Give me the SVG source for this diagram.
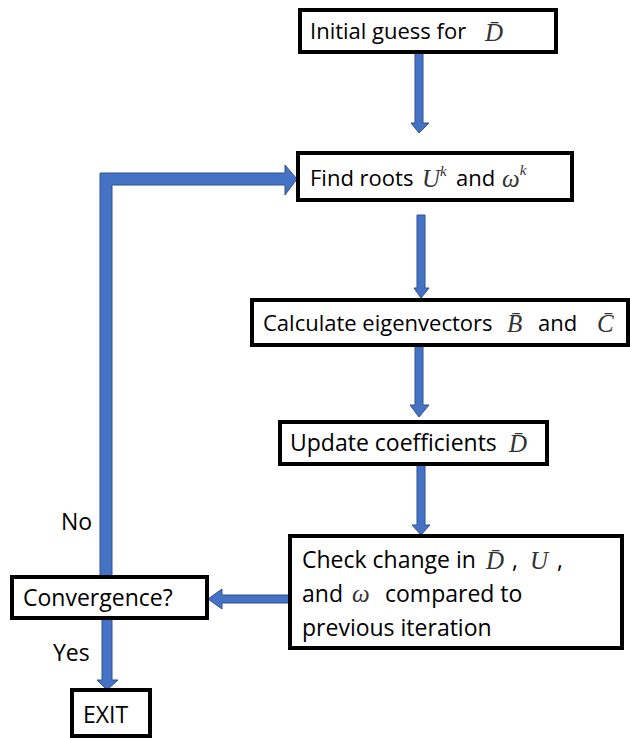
<svg xmlns="http://www.w3.org/2000/svg" width="630" height="738" viewBox="0 0 630 738">
<style>
.box{fill:#fff;stroke:#000;stroke-width:4}
.t{font-family:"Open Sans","Liberation Sans",sans-serif;font-size:23px;fill:#000}
.s22{font-size:22px}
.m{font-family:"Liberation Serif","DejaVu Serif",serif;font-style:italic;font-size:25px;fill:#333}
.sup{font-size:15px}
.arr{fill:#4472C4;stroke:#2F528F;stroke-width:1}
</style>
<rect width="630" height="738" fill="#fff"/>
<g id="connectors">
  <polygon class="arr" points="415,52 423,52 423,123 429,123 419,133 411,123 415,123"/>
  <polygon class="arr" points="417,215 425,215 425,288 429,288 421,298 414,288 417,288"/>
  <polygon class="arr" points="415,345 423,345 423,405 429,405 419,417 410,405 415,405"/>
  <polygon class="arr" points="417,464 425,464 425,525 430,525 421,535 412,525 417,525"/>
  <polygon class="arr" points="100,576 100,173 285,173 285,165 297,179 285,195 285,185 112,185 112,576"/>
  <polygon class="arr" points="290,595 222,595 222,589 208,599 222,609 222,603 290,603"/>
  <polygon class="arr" points="102,618 112,618 112,680 118,680 107,690 97,680 102,680"/>
</g>
<g id="n1">
  <rect class="box" x="300" y="10" width="256" height="42"/>
  <text class="t s22" x="310" y="39">Initial guess for</text>
  <text class="m" x="485" y="41">D̄</text>
</g>
<g id="n2">
  <rect class="box" x="298" y="153" width="274" height="47"/>
  <text class="t s22" x="310" y="186">Find roots</text>
  <text class="m" x="422" y="187">U<tspan class="sup" dy="-11">k</tspan></text>
  <text class="t s22" x="456" y="186">and</text>
  <text class="m" x="502" y="187">ω<tspan class="sup" dy="-12">k</tspan></text>
</g>
<g id="n3">
  <rect class="box" x="252" y="300" width="376" height="45"/>
  <text class="t s22" x="263" y="331">Calculate eigenvectors</text>
  <text class="m" x="507" y="332">B̄</text>
  <text class="t s22" x="538" y="331">and</text>
  <text class="m" x="597" y="332">C̄</text>
</g>
<g id="n4">
  <rect class="box" x="280" y="422" width="267" height="42"/>
  <text class="t" x="290" y="451">Update coefficients</text>
  <text class="m" x="509" y="452">D̄</text>
</g>
<g id="n5">
  <rect class="box" x="290" y="536" width="332" height="112"/>
  <text class="t" x="302" y="568">Check change in</text>
  <text class="m" x="486" y="569">D̄</text>
  <text class="t" x="512" y="568">,</text>
  <text class="m" x="530" y="569">U</text>
  <text class="t" x="557" y="568">,</text>
  <text class="t" x="302" y="602">and</text>
  <text class="m" x="352" y="602">ω</text>
  <text class="t" x="385" y="602">compared to</text>
  <text class="t" x="302" y="636">previous iteration</text>
</g>
<g id="n6">
  <rect class="box" x="12" y="577" width="195" height="41"/>
  <text class="t" x="23" y="606">Convergence?</text>
</g>
<g id="n7">
  <rect class="box" x="72" y="690" width="78" height="46"/>
  <text class="t" x="83" y="723">EXIT</text>
</g>
<text class="t" x="61" y="530">No</text>
<text class="t" x="53" y="661">Yes</text>
</svg>
